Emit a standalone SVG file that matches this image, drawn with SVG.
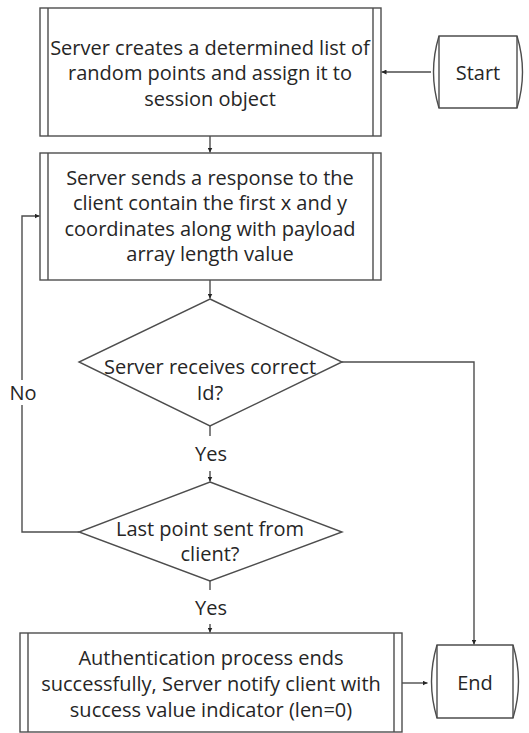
<svg xmlns="http://www.w3.org/2000/svg" width="529" height="733" viewBox="0 0 529 733">
  <style>
    .shape { fill: #ffffff; stroke: #4d4d4d; stroke-width: 1.4; }
    .inner { fill: none; stroke: #4d4d4d; stroke-width: 1.4; }
    .edge { fill: none; stroke: #4d4d4d; stroke-width: 1.4; }
    text { font-family: "Open Sans", "Noto Sans", sans-serif; font-size: 20px; fill: #262626; text-anchor: middle; dominant-baseline: central; }
  </style>
  <defs>
    <marker id="arrow" viewBox="0 0 8 8" refX="8" refY="4" markerWidth="5" markerHeight="5" orient="auto" markerUnits="userSpaceOnUse">
      <path d="M0,0 L8,4 L0,8 Z" fill="#262626"/>
    </marker>
  </defs>
  <rect width="529" height="733" fill="#ffffff"/>

  <g id="connectors">
    <path class="edge" d="M431,72 H381.5" marker-end="url(#arrow)"/>
    <path class="edge" d="M210,136 V152.5" marker-end="url(#arrow)"/>
    <path class="edge" d="M210,280 V298.5" marker-end="url(#arrow)"/>
    <path class="edge" d="M342,362 H474 V644.5" marker-end="url(#arrow)"/>
    <path class="edge" d="M210,426 V436"/>
    <path class="edge" d="M210,471 V481.5" marker-end="url(#arrow)"/>
    <path class="edge" d="M79,532 H22 V405"/>
    <path class="edge" d="M22,380 V216 H39.5" marker-end="url(#arrow)"/>
    <path class="edge" d="M210,581 V590"/>
    <path class="edge" d="M210,624 V632.5" marker-end="url(#arrow)"/>
    <path class="edge" d="M402,683 H427.5" marker-end="url(#arrow)"/>
    <text x="23" y="392">No</text>
    <text x="211" y="453">Yes</text>
    <text x="211" y="607">Yes</text>
  </g>

  <g id="start">
    <path class="shape" d="M439,36 H517 Q528,72 517,108 H439 Q428,72 439,36 Z"/>
    <path class="inner" d="M439,36 V108 M517,36 V108"/>
    <text x="478" y="72">Start</text>
  </g>

  <g id="create-points">
    <rect class="shape" x="40" y="8" width="341" height="128"/>
    <path class="inner" d="M48,8 V136 M373,8 V136"/>
    <text x="210" y="47">Server creates a determined list of</text>
    <text x="210" y="72.5">random points and assign it to</text>
    <text x="210" y="98">session object</text>
  </g>

  <g id="send-response">
    <rect class="shape" x="40" y="153" width="341" height="127"/>
    <path class="inner" d="M48,153 V280 M373,153 V280"/>
    <text x="210" y="177">Server sends a response to the</text>
    <text x="210" y="202.5">client contain the first x and y</text>
    <text x="210" y="228">coordinates along with payload</text>
    <text x="210" y="253.5">array length value</text>
  </g>

  <g id="check-id">
    <polygon class="shape" points="210,299 342,362 210,426 79,362"/>
    <text x="210" y="366">Server receives correct</text>
    <text x="210" y="392">Id?</text>
  </g>

  <g id="check-last">
    <polygon class="shape" points="210,482 342,532 210,581 79,532"/>
    <text x="210" y="528">Last point sent from</text>
    <text x="210" y="553">client?</text>
  </g>

  <g id="auth-success">
    <rect class="shape" x="20" y="633" width="382" height="99"/>
    <path class="inner" d="M28,633 V732 M394,633 V732"/>
    <text x="211" y="657">Authentication process ends</text>
    <text x="211" y="683">successfully, Server notify client with</text>
    <text x="211" y="709">success value indicator (len=0)</text>
  </g>

  <g id="end">
    <path class="shape" d="M437,645 H513 Q524,681.5 513,718 H437 Q426,681.5 437,645 Z"/>
    <path class="inner" d="M437,645 V718 M513,645 V718"/>
    <text x="475" y="682">End</text>
  </g>
</svg>
